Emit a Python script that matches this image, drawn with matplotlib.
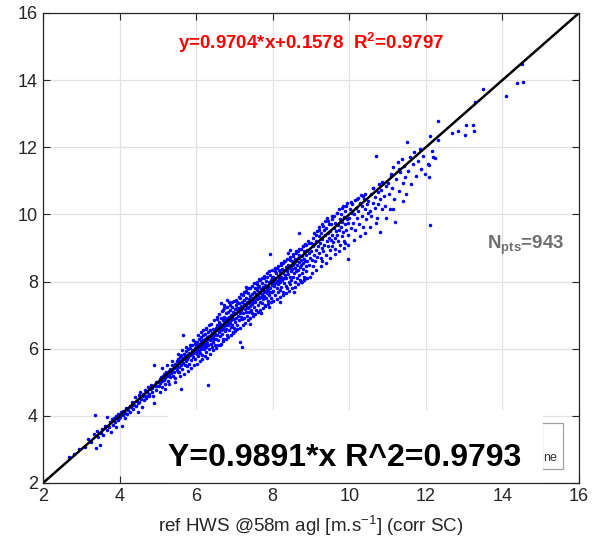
import numpy as np
import matplotlib
matplotlib.use("Agg")
from matplotlib import pyplot as plt
from matplotlib.patches import Rectangle

plt.rcParams['font.family'] = ['Liberation Sans', 'DejaVu Sans']
plt.rcParams['mathtext.fontset'] = 'custom'
plt.rcParams['mathtext.rm'] = 'Liberation Sans'
plt.rcParams['mathtext.bf'] = 'Liberation Sans:bold'

# hand-read points (ref HWS, lidar HWS), grouped by x bins
pts_a = [(2.68,2.78),(2.82,2.86),(2.95,3.02),(3.10,3.08),(3.17,3.30),(3.25,3.22),(3.33,3.45),(3.38,3.04),
         (3.36,4.02),(3.42,3.55),(3.48,3.13),(3.45,3.38)]
pts_b = [(3.52,3.50),(3.55,3.62),(3.58,3.44),(3.62,3.70),(3.66,3.97),(3.68,3.58),(3.72,3.66),(3.75,3.81),
         (3.78,3.52),(3.80,3.90),(3.83,3.74),(3.85,3.95),(3.88,3.82),(3.90,4.00),(3.92,3.68),(3.95,3.88),
         (3.97,4.05),(3.99,3.93)]
pts_c = [(4.02,3.98),(4.04,4.10),(4.06,3.71),(4.08,4.02),(4.10,4.15),(4.13,3.95),(4.15,4.08),(4.18,4.22),
         (4.20,4.05),(4.23,4.18),(4.26,4.30),(4.28,4.12),(4.30,4.25),(4.33,4.40),(4.35,4.20),(4.38,4.33),
         (4.40,4.55),(4.42,4.28),(4.45,4.45),(4.47,4.10),(4.48,4.38),(4.50,4.62)]
pts_d = [(4.52,4.42),(4.54,4.70),(4.56,4.50),(4.58,4.25),(4.60,4.58),(4.62,4.65),(4.64,4.48),(4.66,4.78),
         (4.68,4.60),(4.70,4.52),(4.72,4.72),(4.74,4.85),(4.76,4.66),(4.78,4.58),(4.80,4.80),(4.82,4.92),
         (4.84,4.70),(4.86,4.82),(4.88,4.60),(4.90,4.38),(4.90,5.51),(4.92,4.88),(4.94,5.00),(4.96,4.78),
         (4.98,4.90)]
pts_e = [(5.01,5.02),(5.03,4.90),(5.05,5.10),(5.06,4.98),(5.08,5.15),(5.10,5.05),(5.12,4.85),(5.13,5.20),
         (5.15,5.08),(5.17,5.25),(5.19,5.12),(5.20,4.95),(5.22,5.30),(5.24,5.18),(5.26,5.05),(5.28,5.35),
         (5.29,5.22),(5.31,5.40),(5.33,5.15),(5.35,5.28),(5.36,5.50),(5.38,5.35),(5.40,5.20),(5.42,5.42),
         (5.43,5.30),(5.45,5.55),(5.46,5.12),(5.48,5.45),(5.49,5.62),(5.50,5.38)]
pts_f = [(5.51,5.50),(5.52,5.70),(5.53,5.30),(5.55,5.58),(5.56,5.45),(5.57,5.75),(5.58,5.62),(5.60,4.80),
         (5.60,5.52),(5.61,5.80),(5.62,5.66),(5.64,5.40),(5.65,6.40),(5.65,5.72),(5.66,5.58),(5.68,5.85),
         (5.69,5.68),(5.70,5.50),(5.72,5.78),(5.73,5.92),(5.74,5.62),(5.76,5.82),(5.77,5.70),(5.78,5.98),
         (5.80,5.76),(5.81,5.55),(5.82,5.88),(5.84,5.80),(5.85,6.02),(5.86,5.65),(5.88,5.92),(5.89,5.84),
         (5.90,6.10),(5.92,5.75),(5.93,5.96),(5.95,5.88),(5.96,6.15),(5.97,5.70),(5.98,6.02),(5.99,5.90)]
pts_g = [(6.00,6.05),(6.01,5.85),(6.02,6.20),(6.03,5.95),(6.04,6.10),(6.05,5.78),(6.06,6.02),(6.07,6.28),
         (6.08,5.92),(6.09,6.15),(6.10,6.05),(6.11,5.88),(6.12,6.22),(6.13,6.35),(6.14,6.00),(6.15,6.12),
         (6.16,5.82),(6.17,6.25),(6.18,6.08),(6.19,6.40),(6.20,6.18),(6.21,5.98),(6.22,6.30),(6.23,6.12),
         (6.24,6.45),(6.25,6.05),(6.26,6.22),(6.27,5.90),(6.28,6.35),(6.29,6.18),(6.30,6.28),(6.31,6.50),
         (6.32,4.92),(6.32,6.10),(6.33,6.38),(6.34,6.00),(6.35,6.25),(6.36,6.55),(6.37,6.32),(6.38,6.15),
         (6.39,6.42),(6.40,6.28),(6.41,6.05),(6.42,6.48),(6.43,6.35),(6.44,6.60),(6.45,6.20),(6.46,6.40),
         (6.47,6.52),(6.48,6.30),(6.49,6.12)]
pts_h = [(6.50,6.45),(6.51,6.62),(6.52,6.30),(6.53,6.55),(6.54,6.70),(6.55,6.40),(6.56,6.58),(6.57,6.25),
         (6.58,6.68),(6.59,6.80),(6.60,6.50),(6.61,6.62),(6.62,6.38),(6.63,6.75),(6.64,6.55),(6.65,6.90),
         (6.65,7.35),(6.66,6.65),(6.67,6.45),(6.68,6.72),(6.69,6.85),(6.70,6.60),(6.71,6.30),(6.72,6.78),
         (6.72,7.30),(6.73,6.95),(6.74,6.68),(6.75,6.52),(6.76,6.85),(6.77,7.05),(6.78,6.72),(6.79,6.60),
         (6.80,6.92),(6.80,7.45),(6.81,6.40),(6.82,6.80),(6.83,7.10),(6.84,6.70),(6.85,6.95),(6.86,6.55),
         (6.87,6.88),(6.88,7.15),(6.89,6.78),(6.90,6.65),(6.91,7.00),(6.92,6.85),(6.93,7.25),(6.94,6.72),
         (6.95,6.95),(6.96,6.50),(6.97,7.08),(6.98,6.88),(6.99,6.62)]
pts_i = [(7.00,7.02),(7.01,6.80),(7.02,7.18),(7.03,6.92),(7.04,7.30),(7.05,7.05),(7.06,6.70),(7.07,7.22),
         (7.08,7.40),(7.09,6.98),(7.10,7.12),(7.11,6.85),(7.12,7.35),(7.13,7.20),(7.14,6.20),(7.14,7.05),
         (7.15,7.50),(7.16,6.95),(7.17,7.28),(7.18,7.15),(7.19,6.06),(7.19,6.88),(7.20,7.38),(7.21,7.22),
         (7.22,7.60),(7.23,7.05),(7.24,7.32),(7.25,6.92),(7.26,7.45),(7.27,7.18),(7.28,7.70),(7.29,7.30),
         (7.30,7.10),(7.31,7.52),(7.32,7.25),(7.32,7.80),(7.33,6.98),(7.34,7.40),(7.35,7.65),(7.36,7.20),
         (7.37,7.48),(7.38,7.08),(7.39,7.35),(7.40,7.58),(7.41,7.28),(7.42,7.80),(7.43,7.15),(7.44,7.42),
         (7.45,7.62),(7.46,7.32),(7.47,7.05),(7.48,7.50),(7.49,7.38)]
pts_j = [(7.50,7.45),(7.51,7.68),(7.52,7.25),(7.53,7.55),(7.54,7.82),(7.55,7.38),(7.56,7.62),(7.57,7.15),
         (7.58,7.75),(7.59,7.48),(7.60,7.92),(7.61,7.58),(7.62,7.30),(7.63,7.70),(7.64,7.52),(7.65,7.88),
         (7.66,7.40),(7.67,7.65),(7.68,8.05),(7.69,7.55),(7.70,7.78),(7.71,7.35),(7.72,7.95),(7.73,7.62),
         (7.74,7.48),(7.75,7.85),(7.76,7.70),(7.77,8.10),(7.78,7.58),(7.79,7.30),(7.80,7.90),(7.81,7.72),
         (7.82,7.50),(7.83,8.02),(7.84,7.80),(7.85,7.65),(7.86,8.15),(7.87,7.88),(7.88,7.42),(7.89,7.75),
         (7.90,7.98),(7.91,7.60),(7.92,8.20),(7.93,7.82),(7.94,8.82),(7.94,7.70),(7.95,7.52),(7.96,8.05),
         (7.97,7.90),(7.98,7.68),(7.99,8.12)]
pts_k = [(8.00,7.95),(8.01,8.15),(8.02,7.72),(8.03,8.05),(8.04,7.88),(8.05,8.30),(8.06,7.60),(8.07,8.10),
         (8.08,7.95),(8.09,8.25),(8.10,7.80),(8.11,8.40),(8.12,8.02),(8.13,7.68),(8.14,8.18),(8.15,7.92),
         (8.16,8.35),(8.17,8.08),(8.18,7.75),(8.19,8.28),(8.20,8.00),(8.21,8.48),(8.22,8.15),(8.23,7.85),
         (8.24,8.38),(8.25,8.05),(8.26,7.70),(8.27,8.25),(8.28,8.55),(8.29,8.12),(8.30,7.95),(8.31,8.35),
         (8.32,8.20),(8.33,8.62),(8.34,7.88),(8.35,8.42),(8.36,8.10),(8.37,8.30),(8.38,7.80),(8.39,8.50),
         (8.40,8.85),(8.41,8.22),(8.42,8.00),(8.43,8.40),(8.44,8.65),(8.45,8.15),(8.46,7.92),(8.47,8.45),
         (8.48,8.30),(8.49,8.05)]
pts_l = [(8.50,8.38),(8.51,8.60),(8.52,8.15),(8.53,8.48),(8.54,8.75),(8.55,8.25),(8.56,8.55),(8.57,8.00),
         (8.58,8.68),(8.59,8.40),(8.60,8.85),(8.61,8.30),(8.62,8.62),(8.63,8.10),(8.64,8.50),(8.65,8.92),
         (8.66,8.35),(8.67,8.70),(8.68,9.46),(8.68,8.20),(8.69,8.58),(8.70,8.80),(8.71,8.42),(8.72,8.05),
         (8.73,8.65),(8.74,8.98),(8.75,8.48),(8.76,8.25),(8.77,8.75),(8.78,8.55),(8.79,9.05),(8.80,8.38),
         (8.81,8.68),(8.82,8.90),(8.83,8.15),(8.84,8.60),(8.85,9.12),(8.86,8.45),(8.87,8.80),(8.88,8.30),
         (8.89,8.95),(8.90,8.62),(8.92,9.20),(8.94,8.50),(8.96,8.85),(8.98,8.70)]
pts_m = [(9.00,8.90),(9.01,9.15),(9.02,8.65),(9.04,9.05),(9.05,8.45),(9.06,9.30),(9.08,8.80),(9.09,9.12),
         (9.10,8.60),(9.12,9.40),(9.13,8.95),(9.14,9.22),(9.16,8.72),(9.17,9.50),(9.18,9.05),(9.20,8.85),
         (9.21,9.35),(9.22,9.62),(9.24,9.15),(9.25,8.70),(9.26,9.45),(9.28,9.00),(9.29,9.72),(9.30,9.28),
         (9.32,8.90),(9.33,9.55),(9.34,9.10),(9.36,9.80),(9.37,9.38),(9.38,8.80),(9.40,9.60),(9.41,9.20),
         (9.42,9.90),(9.44,9.45),(9.45,9.05),(9.46,9.70),(9.48,9.30),(9.49,8.95)]
pts_n = [(9.50,9.50),(9.51,9.25),(9.52,9.72),(9.54,9.05),(9.55,9.40),(9.56,9.85),(9.58,9.18),(9.59,9.60),
         (9.60,9.95),(9.62,9.30),(9.63,9.75),(9.64,8.98),(9.66,9.52),(9.67,10.05),(9.68,9.40),(9.70,9.68),
         (9.71,9.20),(9.72,10.15),(9.74,9.55),(9.75,9.85),(9.76,9.10),(9.78,9.62),(9.79,10.00),(9.80,9.35),
         (9.82,9.78),(9.83,10.25),(9.84,9.48),(9.86,9.92),(9.87,9.20),(9.88,9.70),(9.90,10.10),(9.92,9.55),
         (9.94,9.85),(9.95,10.35),(9.96,9.40),(9.97,8.66),(9.98,9.75)]
pts_o = [(10.00,9.90),(10.02,10.15),(10.04,9.60),(10.06,10.05),(10.08,10.30),(10.10,9.75),(10.12,10.00),
         (10.14,10.42),(10.16,9.55),(10.18,10.20),(10.20,9.88),(10.22,10.50),(10.24,10.10),(10.26,9.70),
         (10.28,10.35),(10.30,10.58),(10.32,9.95),(10.34,10.25),(10.36,9.62),(10.38,10.45),(10.40,10.15),
         (10.42,10.62),(10.44,9.85),(10.46,10.30),(10.48,10.05)]
pts_p = [(10.50,10.40),(10.53,10.10),(10.56,10.60),(10.58,9.95),(10.61,10.35),(10.63,10.78),(10.66,10.20),
         (10.68,10.52),(10.71,11.74),(10.72,9.90),(10.74,10.68),(10.76,10.30),(10.78,10.90),(10.80,9.47),
         (10.81,10.45),(10.84,10.72),(10.86,10.15),(10.89,10.95),(10.92,10.55),(10.94,10.25),(10.97,10.85)]
pts_q = [(11.02,10.95),(11.05,10.60),(11.06,10.15),(11.09,11.20),(11.12,10.80),(11.15,11.40),(11.18,10.45),
         (11.20,9.78),(11.22,11.05),(11.26,11.55),(11.29,10.70),(11.33,11.25),(11.37,11.65),(11.40,10.95),
         (11.44,11.45),(11.48,10.60)]
pts_r = [(11.51,12.16),(11.53,11.30),(11.58,11.70),(11.62,10.90),(11.66,11.50),(11.70,11.85),(11.74,11.15),
         (11.79,11.60),(11.84,11.95),(11.88,11.35),(11.93,11.75),(11.97,11.20)]
pts_s = [(12.06,11.50),(12.08,11.12),(12.09,11.46),(12.10,12.34),(12.10,9.69),(12.16,11.90),(12.20,11.72),
         (12.24,11.68),(12.31,12.78),(12.33,12.23)]
pts_t = [(12.68,12.44),(12.84,12.48),(13.03,12.37),(13.06,12.67),(13.22,12.67),(13.26,12.48),(13.29,13.34),
         (13.50,13.73),(14.09,13.52),(14.39,13.90),(14.54,13.93),(14.51,14.47)]
# outer part of the cloud (points further off the 1:1 line)
pts_wide = [(5.05,4.72),(5.12,5.42),(5.18,4.80),(5.24,5.50),(5.30,4.95),(5.37,5.62),(5.44,5.02),(5.52,5.85),
            (5.57,5.18),(5.63,5.95),(5.68,5.25),(5.73,6.05),(5.78,5.35),(5.83,6.12),(5.87,5.42),(5.91,6.25),
            (5.94,5.50),(5.97,6.20),(5.55,5.32),(5.75,5.48),
            (6.02,5.55),(6.05,6.42),(6.09,5.62),(6.12,6.50),(6.15,5.70),(6.19,6.55),(6.22,5.78),(6.26,6.62),
            (6.29,5.72),(6.33,6.70),(6.37,5.85),(6.40,6.75),(6.44,5.95),(6.47,6.85),(6.51,6.02),(6.54,6.95),
            (6.58,6.10),(6.61,7.02),(6.64,6.15),(6.68,7.12),(6.71,6.22),(6.74,7.20),(6.78,6.30),(6.81,7.25),
            (6.84,6.35),(6.88,7.30),(6.91,6.42),(6.94,7.38),(6.97,6.48),(6.25,6.58),(6.55,6.88),(6.62,6.12),
            (6.86,7.40),(6.70,7.15),(6.99,7.42),
            (7.02,6.52),(7.05,7.45),(7.08,6.58),(7.12,7.55),(7.15,6.62),(7.18,7.62),(7.22,6.70),(7.25,7.68),
            (7.28,6.78),(7.31,7.72),(7.35,6.85),(7.38,7.80),(7.41,6.90),(7.45,7.88),(7.48,6.98),(7.51,7.95),
            (7.55,7.02),(7.58,8.00),(7.61,7.10),(7.65,8.08),(7.68,7.15),(7.71,8.12),(7.75,7.22),(7.78,8.18),
            (7.81,7.28),(7.85,8.25),(7.88,7.32),(7.91,8.30),(7.95,7.38),(7.98,8.35),(7.30,7.85),(7.62,7.85),
            (7.42,6.75),(7.70,7.05),(7.90,7.25),
            (8.02,7.42),(8.06,8.40),(8.10,7.48),(8.14,8.45),(8.18,7.55),(8.22,8.55),(8.26,7.60),(8.30,8.62),
            (8.34,7.65),(8.38,8.68),(8.42,7.72),(8.46,8.72),(8.50,7.80),(8.54,8.82),(8.58,7.85),(8.62,8.90),
            (8.66,7.92),(8.70,8.98),(8.74,7.98),(8.78,9.05),(8.82,8.05),(8.86,9.10),(8.90,8.10),(8.94,9.15),
            (8.98,8.15),(8.20,7.40),(8.56,7.70),(8.76,8.00),(8.44,8.95),(8.88,8.12),
            (9.03,8.25),(9.08,9.45),(9.14,8.35),(9.20,9.55),(9.26,8.45),(9.32,9.65),(9.38,8.55),(9.44,9.80),
            (9.50,8.70),(9.56,9.95),(9.62,8.82),(9.68,10.05),(9.74,8.92),(9.80,10.18),(9.86,9.00),(9.92,10.25),
            (9.98,9.08),(10.05,10.38),(10.12,9.25),(10.20,10.45),(10.28,9.35),(10.35,10.55),(10.42,9.45),
            (9.30,8.60),(9.90,9.15),
            (10.55,9.62),(10.62,10.80),(10.70,9.75),(10.85,10.98),(10.95,9.90),(11.08,11.15),(11.15,10.15),
            (11.30,11.35),(11.40,10.40),(11.45,11.10)]

all_pts = np.array(pts_a + pts_b + pts_c + pts_d + pts_e + pts_f + pts_g + pts_h + pts_i + pts_j +
                   pts_k + pts_l + pts_m + pts_n + pts_o + pts_p + pts_q + pts_r + pts_s + pts_t + pts_wide)
x_ref = all_pts[:, 0]
y_lid = all_pts[:, 1]

lims = [2, 16]
ticks = [2, 4, 6, 8, 10, 12, 14, 16]

fig = plt.figure(figsize=(5.92, 5.46), dpi=100)
ax = fig.add_axes([0.0726, 0.1154, 0.9054, 0.8608])

ax.scatter(x_ref, y_lid, s=6.5, c='#0000ff', marker='o', linewidths=0, zorder=3)
ax.plot(lims, lims, color='black', lw=1.8, zorder=4)

ax.set_xlim(lims)
ax.set_ylim(lims)
ax.set_xticks(ticks)
ax.set_yticks(ticks)
ax.grid(True, color='#e2e2e2', lw=0.9, zorder=0)
ax.set_axisbelow(True)
ax.tick_params(direction='in', length=5, top=True, right=True, labelsize=13,
               colors='#262626', width=0.8)
for sp in ax.spines.values():
    sp.set_color('#262626')
    sp.set_linewidth(0.9)
    sp.set_zorder(6)

ax.set_xlabel(r'ref HWS @58m agl [m.s$^{-1}$] (corr SC)', fontsize=13.5, color='#262626', labelpad=6)

ax.text(0.5, 0.936, r'y=0.9704*x+0.1578  R$^\mathbf{2}$=0.9797', transform=ax.transAxes,
        color='#ff0000', fontsize=13.5, fontweight='bold', ha='center', va='center')
ax.text(0.828, 0.506, r'N$_\mathbf{pts}$=943', transform=ax.transAxes,
        color='#6e6e6e', fontsize=13.5, fontweight='bold', ha='left', va='center')

# white patch with partial legend box behind the big annotation
ax.add_patch(Rectangle((0.233, 0.0), 0.70, 0.155, transform=ax.transAxes,
                       facecolor='white', edgecolor='none', zorder=5))
ax.add_patch(Rectangle((0.931, 0.030), 0.039, 0.098, transform=ax.transAxes,
                       facecolor='white', edgecolor='#a0a0a0', lw=0.9, zorder=5))
ax.add_patch(Rectangle((0.92, 0.02), 0.012, 0.12, transform=ax.transAxes,
                       facecolor='white', edgecolor='none', zorder=5))
ax.text(0.946, 0.053, 'ne', transform=ax.transAxes, fontsize=9, color='#333333',
        ha='center', va='center', zorder=6)

fig.text(0.284, 0.161, 'Y=0.9891*x R^2=0.9793', fontsize=23, fontweight='bold',
         color='black', ha='left', va='center')

fig.savefig('out.png', dpi=100)
